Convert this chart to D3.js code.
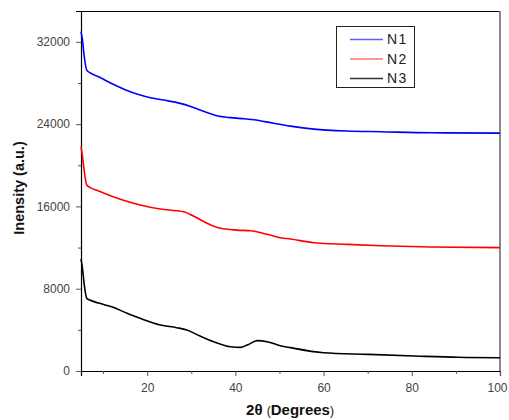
<!DOCTYPE html>
<html><head><meta charset="utf-8">
<script src="https://cdn.jsdelivr.net/npm/d3@7"></script>
<style>body{margin:0;background:#fff}svg{display:block}</style>
</head><body>
<svg id="c" width="509" height="420"></svg>
<script>
const xTicks = [20, 40, 60, 80, 100];
const yTicks = [0, 8000, 16000, 24000, 32000];
const seriesNames = ["N1", "N2", "N3"];
const seriesColors = ["#0000ff", "#ff0000", "#000000"];
const legendColors = ["#6060ff", "#ff7070", "#333333"];
const n1 = [[5,33000],[5.3,32300],[5.7,30700],[6.3,29250],[7,29000],[9,28600],[12.3,27870],[15,27350],[18.4,26830],[21,26550],[23.7,26340],[27.5,26020],[30,25700],[32,25370],[35.8,24820],[38.9,24630],[42,24520],[44.2,24430],[48.7,24080],[52.5,23810],[57.8,23520],[65.4,23330],[73,23260],[84.3,23160],[100,23130]];
const n2 = [[5,21800],[5.3,21000],[5.7,19540],[6.3,18080],[7,17860],[9,17500],[12.3,16940],[15,16550],[18.4,16140],[23,15750],[26.7,15580],[28.3,15480],[30.5,15070],[33.6,14360],[36.6,13870],[40.4,13700],[43.4,13640],[47.2,13290],[50.2,12960],[52.5,12830],[57.8,12470],[65.4,12310],[73,12180],[84.3,12050],[100,11990]];
const n3 = [[5,10900],[5.3,10100],[5.7,8520],[6.3,7070],[7,6900],[9,6600],[12.3,6190],[15,5700],[18.4,5120],[23,4470],[26.7,4210],[29,3990],[32,3400],[35.1,2850],[38.9,2360],[41.2,2300],[42.7,2530],[45,2950],[47.2,2850],[50.2,2460],[52.5,2270],[60,1780],[70,1620],[80.6,1460],[90.5,1330],[100,1290]];
const seriesData = [n1, n2, n3];

const svg = d3.select("#c");
const L = 81, R = 500, T = 11, B = 371;
const x = d3.scaleLinear().domain([5, 100]).range([L, R]);
const y = d3.scaleLinear().domain([0, 35000]).range([B, T]);

// frame top/right
svg.append("line").attr("x1", L).attr("x2", R).attr("y1", T + 0.5).attr("y2", T + 0.5).attr("stroke", "#000").attr("stroke-width", 1);
svg.append("line").attr("x1", R).attr("x2", R).attr("y1", T).attr("y2", B).attr("stroke", "#888").attr("stroke-width", 2);

const xMinor = d3.range(10, 100, 20);
const yMinor = d3.range(4000, 35000, 8000);
const xa = svg.append("g").attr("transform", `translate(0,${B})`)
  .call(d3.axisBottom(x).tickValues(xTicks).tickSize(5).tickPadding(7).tickFormat(d3.format("d")));
xa.selectAll(".tick text").filter(d => d === 100).attr("dx", -3);
svg.append("g").attr("transform", `translate(0,${B})`)
  .call(d3.axisBottom(x).tickValues(xMinor).tickSize(3).tickFormat(""))
  .call(g => g.select(".domain").remove());
const ya = svg.append("g").attr("transform", `translate(${L},0)`)
  .call(d3.axisLeft(y).tickValues(yTicks).tickSize(5).tickPadding(6).tickFormat(d3.format("d")));
svg.append("g").attr("transform", `translate(${L},0)`)
  .call(d3.axisLeft(y).tickValues(yMinor).tickSize(3).tickFormat(""))
  .call(g => g.select(".domain").remove());
svg.selectAll(".domain").attr("stroke", "#000").attr("stroke-width", 1.2);
svg.selectAll(".tick line").attr("stroke", "#555");
svg.selectAll(".tick text").attr("font-family", "Liberation Sans, Arial, sans-serif").attr("font-size", 12).attr("fill", "#444");

// lines
const lineGen = d3.line().x(d => x(d[0])).y(d => y(d[1])).curve(d3.curveMonotoneX);
seriesData.forEach((s, i) => {
  svg.append("path").datum(s).attr("d", lineGen).attr("fill", "none")
    .attr("stroke", seriesColors[i]).attr("stroke-width", 1.6);
});

// legend
const lg = svg.append("g");
lg.append("rect").attr("x", 336.5).attr("y", 26.5).attr("width", 78).attr("height", 61)
  .attr("fill", "#fff").attr("stroke", "#222").attr("stroke-width", 1);
seriesNames.forEach((n, i) => {
  const yy = 39.5 + i * 19.5;
  lg.append("path").attr("d", `M350,${yy}H383`)
    .style("stroke", legendColors[i]).style("stroke-width", "1.3px").style("fill", "none");
  lg.append("text").attr("x", 387).attr("y", yy + 4.5).text(n)
    .attr("font-family", "Liberation Sans, Arial, sans-serif").attr("font-size", 14)
    .attr("letter-spacing", 1.5).attr("fill", "#222");
});

// axis titles
const xt = svg.append("text").attr("x", 290).attr("y", 415).attr("text-anchor", "middle")
  .attr("font-family", "Liberation Sans, Arial, sans-serif").attr("font-weight", "bold").attr("font-size", 15).attr("fill", "#111");
xt.append("tspan").text("2θ ");
xt.append("tspan").attr("font-weight", "normal").attr("font-size", 12).text("(");
xt.append("tspan").text("Degrees");
xt.append("tspan").attr("font-weight", "normal").attr("font-size", 12).text(")");

svg.append("text").attr("transform", "translate(24,188) rotate(-90)").attr("text-anchor", "middle")
  .attr("font-family", "Liberation Sans, Arial, sans-serif").attr("font-weight", "bold").attr("font-size", 14.5).attr("fill", "#111")
  .text("Inensity (a.u.)");
</script>
</body></html>
